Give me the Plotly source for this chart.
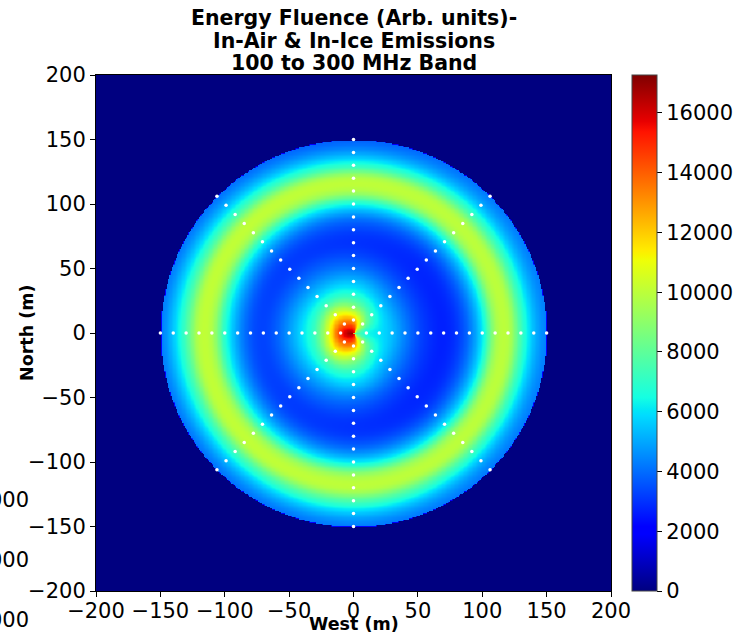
import numpy as np
import plotly.graph_objects as go

# Radial sample positions along each arm of the star (m); r = 0 is the core limit
radii_m = [0, 10, 20, 30, 40, 50, 60, 70, 80, 90, 100, 110, 120, 130, 140, 150]
# Antenna radii actually instrumented on each arm (m)
antenna_radii_m = [10, 20, 30, 40, 50, 60, 70, 80, 90, 100, 110, 120, 130, 140, 150]
# Arm directions, counter-clockwise from +x (deg)
arm_angles_deg = [0, 45, 90, 135, 180, 225, 270, 315]

# Energy fluence (arb. units) along each arm at radii_m
fluence_e = [8000, 6500, 6000, 5300, 4300, 3400, 2900, 2700, 3100, 4200, 6200, 9400, 9800, 7300, 5300, 4300]
fluence_ne = [10500, 9000, 7000, 5600, 4500, 3600, 3000, 2800, 3100, 4200, 6200, 9400, 9800, 7300, 5200, 4200]
fluence_n = [15500, 12500, 9000, 6800, 5400, 4200, 3400, 3000, 3300, 4300, 6400, 9500, 9800, 7000, 4900, 3800]
fluence_nw = [16500, 14000, 10800, 7600, 5800, 4600, 3700, 3200, 3400, 4500, 6500, 9500, 9900, 7400, 5300, 4100]
fluence_w = [17270, 15000, 10500, 7400, 6000, 4800, 3800, 3300, 3600, 4800, 6800, 9600, 9900, 7600, 5600, 4300]
fluence_sw = [16500, 14000, 10800, 7600, 5800, 4600, 3700, 3200, 3400, 4500, 6500, 9500, 9900, 7400, 5300, 4100]
fluence_s = [15500, 12500, 9100, 6900, 5500, 4200, 3400, 3000, 3200, 4200, 6200, 9300, 9900, 7600, 5400, 4200]
fluence_se = [10500, 9000, 7000, 5600, 4500, 3600, 3000, 2800, 3100, 4200, 6200, 9400, 9800, 7300, 5200, 4200]

arms = np.array([fluence_e, fluence_ne, fluence_n, fluence_nw,
                 fluence_w, fluence_sw, fluence_s, fluence_se], dtype=float)

colorbar_ticks = [0, 2000, 4000, 6000, 8000, 10000, 12000, 14000, 16000]
axis_ticks = [-200, -150, -100, -50, 0, 50, 100, 150, 200]
title_lines = ["Energy Fluence (Arb. units)-", "In-Air & In-Ice Emissions", "100 to 300 MHz Band"]

# matplotlib "jet" colour map
jet = [
    [0.0, "rgb(0,0,128)"], [0.11, "rgb(0,0,255)"], [0.125, "rgb(0,0,255)"],
    [0.34, "rgb(0,219,255)"], [0.35, "rgb(0,230,247)"], [0.375, "rgb(21,255,226)"],
    [0.64, "rgb(238,255,8)"], [0.65, "rgb(247,246,0)"], [0.66, "rgb(255,236,0)"],
    [0.89, "rgb(255,19,0)"], [0.91, "rgb(232,0,0)"], [1.0, "rgb(128,0,0)"],
]


def catmull_rom(p0, p1, p2, p3, u):
    return 0.5 * (2 * p1 + (-p0 + p2) * u
                  + (2 * p0 - 5 * p1 + 4 * p2 - p3) * u ** 2
                  + (-p0 + 3 * p1 - 3 * p2 + p3) * u ** 3)


# Fluence map on a regular ground grid, filled from the star in polar coordinates
grid = np.arange(-200, 200.5, 1.0)
gx, gy = np.meshgrid(grid, grid)
rr = np.hypot(gx, gy)
th = np.mod(np.arctan2(gy, gx), 2 * np.pi)

r_step = radii_m[1] - radii_m[0]
n_r = len(radii_m)
t_r = np.clip(rr / r_step, 0, n_r - 1 - 1e-9)
k = np.floor(t_r).astype(int)
u = t_r - k
k0 = np.clip(k - 1, 0, n_r - 1)
k2 = np.clip(k + 1, 0, n_r - 1)
k3 = np.clip(k + 2, 0, n_r - 1)
radial = catmull_rom(arms[:, k0], arms[:, k], arms[:, k2], arms[:, k3], u)

n_a = len(arm_angles_deg)
t_a = th / (2 * np.pi / n_a)
j = np.floor(t_a).astype(int) % n_a
v = t_a - np.floor(t_a)
ii, jj = np.indices(rr.shape)
a0 = radial[(j - 1) % n_a, ii, jj]
a1 = radial[j, ii, jj]
a2 = radial[(j + 1) % n_a, ii, jj]
a3 = radial[(j + 2) % n_a, ii, jj]
field = catmull_rom(a0, a1, a2, a3, v)
field = np.clip(field, 0, None)
field[rr > max(antenna_radii_m)] = 0
field = np.round(field).astype(int)

zmax = float(arms.max())

# Antenna positions on the star
ant_x, ant_y = [], []
for ang in arm_angles_deg:
    a = np.deg2rad(ang)
    for r in antenna_radii_m:
        ant_x.append(round(r * np.cos(a), 3))
        ant_y.append(round(r * np.sin(a), 3))

fig = go.Figure()
fig.add_trace(go.Heatmap(
    x=grid, y=grid, z=field,
    colorscale=jet, zmin=0, zmax=zmax, zsmooth="best",
    colorbar=dict(
        x=1.0408, xanchor="left", y=0.5, yanchor="middle",
        len=1.0, lenmode="fraction", thickness=25, thicknessmode="pixels",
        xpad=0, ypad=0,
        outlinewidth=1, outlinecolor="#444",
        tickvals=colorbar_ticks, tickformat="d", ticks="outside", ticklen=5,
        tickcolor="black",
        tickfont=dict(family="DejaVu Sans", size=21, color="black"),
    ),
    hoverinfo="skip",
))
fig.add_trace(go.Scatter(
    x=ant_x, y=ant_y, mode="markers",
    marker=dict(color="white", size=3.5, line=dict(width=0)),
    hoverinfo="skip", showlegend=False,
))

axis_common = dict(
    range=[-200, 200], tickvals=axis_ticks, ticks="outside", ticklen=5,
    tickcolor="black", showgrid=False, zeroline=False,
    showline=True, linecolor="black", linewidth=1, mirror=True,
    tickfont=dict(family="DejaVu Sans", size=21, color="black"),
)
fig.update_xaxes(**axis_common, ticklabelstandoff=-4)
fig.update_yaxes(**axis_common)

label_font = dict(family="DejaVu Sans", size=17.5, color="black")
tick_font = dict(family="DejaVu Sans", size=21, color="black")
title_font = dict(family="DejaVu Sans", size=20.5, color="black")

annotations = []
# three-line bold heading above the map
for line, ypos in zip(title_lines, [1.1105, 1.0659, 1.0233]):
    annotations.append(dict(text=f"<b>{line}</b>", xref="paper", yref="paper",
                            x=0.5, y=ypos, xanchor="center", yanchor="middle",
                            showarrow=False, font=title_font))
annotations += [
    dict(text="<b>West (m)</b>", xref="paper", yref="paper", x=0.5, y=-0.063,
         xanchor="center", yanchor="middle", showarrow=False, font=label_font),
    dict(text="<b>North (m)</b>", xref="paper", yref="paper", x=-0.134, y=0.5,
         xanchor="center", yanchor="middle", textangle=-90, showarrow=False, font=label_font),
]
# tick labels of a neighbouring scale, clipped at the left page edge
for ypos in [0.176, 0.060, -0.056]:
    annotations.append(dict(text="000", xref="paper", yref="paper", x=-0.126, y=ypos,
                            xanchor="right", yanchor="middle", showarrow=False,
                            font=tick_font))

fig.update_layout(
    width=733, height=634,
    margin=dict(l=96, r=122, t=75, b=43, autoexpand=False),
    paper_bgcolor="white", plot_bgcolor="white",
    font=dict(family="DejaVu Sans", color="black"),
    annotations=annotations,
)

fig.write_html("out.html")
